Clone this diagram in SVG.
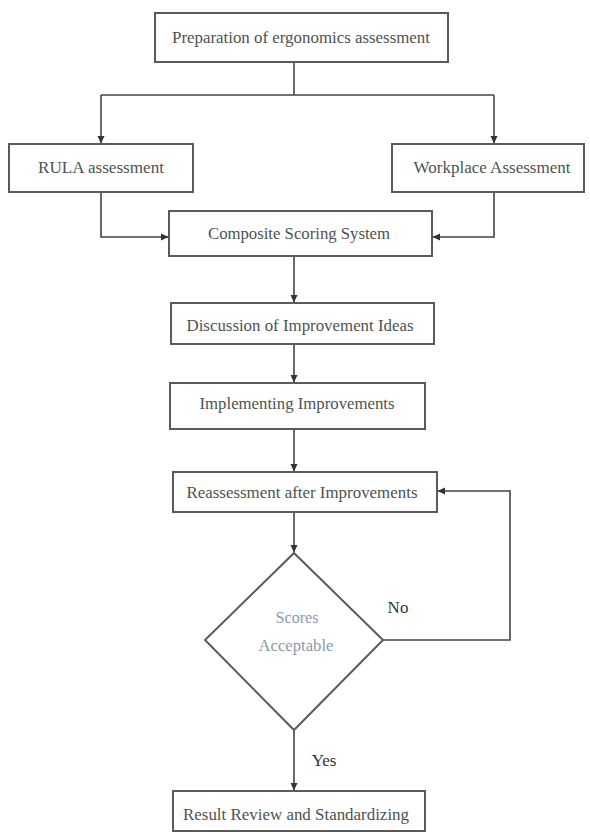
<svg xmlns="http://www.w3.org/2000/svg" width="590" height="832" viewBox="0 0 590 832">
<defs>
<marker id="arr" markerWidth="8" markerHeight="8" refX="7" refY="4" orient="auto" markerUnits="userSpaceOnUse">
<path d="M0,0.5 L7.5,4 L0,7.5 Z" fill="#333"/>
</marker>
<style>
.box{fill:#fff;stroke:#5a5a5a;stroke-width:2}
.t{font-family:"Liberation Serif","Times New Roman",serif;font-size:17px;fill:#4d5350;text-anchor:middle}
.d{font-family:"Liberation Serif","Times New Roman",serif;font-size:17px;fill:#8a9bab;text-anchor:middle}
.l{font-family:"Liberation Serif","Times New Roman",serif;font-size:17px;fill:#333;text-anchor:middle}
.c{fill:none;stroke:#444;stroke-width:1.6}
</style>
</defs>
<rect width="590" height="832" fill="#fff"/>
<g id="connectors">
<path class="c" d="M294,62 V95"/>
<path class="c" d="M101,95 H494"/>
<path class="c" d="M101,95 V143" marker-end="url(#arr)"/>
<path class="c" d="M494,95 V143" marker-end="url(#arr)"/>
<path class="c" d="M101,192 V237 H168" marker-end="url(#arr)"/>
<path class="c" d="M494,192 V237 H433" marker-end="url(#arr)"/>
<path class="c" d="M294,256 V302" marker-end="url(#arr)"/>
<path class="c" d="M294,344 V382" marker-end="url(#arr)"/>
<path class="c" d="M294,429 V471" marker-end="url(#arr)"/>
<path class="c" d="M294,512 V552" marker-end="url(#arr)"/>
<path class="c" d="M383,640 H510 V491 H438" marker-end="url(#arr)"/>
<path class="c" d="M294,730 V790" marker-end="url(#arr)"/>
</g>
<g id="prep">
<rect class="box" x="155" y="13" width="293" height="49"/>
<text class="t" x="301" y="43" textLength="258" lengthAdjust="spacingAndGlyphs">Preparation of ergonomics assessment</text>
</g>
<g id="rula">
<rect class="box" x="9" y="144" width="184" height="48"/>
<text class="t" x="101" y="173" textLength="126" lengthAdjust="spacingAndGlyphs">RULA assessment</text>
</g>
<g id="workplace">
<rect class="box" x="392" y="144" width="192" height="48"/>
<text class="t" x="492" y="173" textLength="157" lengthAdjust="spacingAndGlyphs">Workplace Assessment</text>
</g>
<g id="composite">
<rect class="box" x="169" y="211" width="263" height="45"/>
<text class="t" x="299" y="239" textLength="182" lengthAdjust="spacingAndGlyphs">Composite Scoring System</text>
</g>
<g id="discussion">
<rect class="box" x="171" y="303" width="263" height="41"/>
<text class="t" x="300" y="331" textLength="227" lengthAdjust="spacingAndGlyphs">Discussion of Improvement Ideas</text>
</g>
<g id="implementing">
<rect class="box" x="170" y="383" width="255" height="46"/>
<text class="t" x="297" y="409" textLength="195" lengthAdjust="spacingAndGlyphs">Implementing Improvements</text>
</g>
<g id="reassessment">
<rect class="box" x="173" y="472" width="264" height="40"/>
<text class="t" x="302" y="498" textLength="231" lengthAdjust="spacingAndGlyphs">Reassessment after Improvements</text>
</g>
<g id="decision">
<polygon class="box" points="294,553 383,640 294,730 205,640"/>
<text class="d" x="297" y="623" textLength="43" lengthAdjust="spacingAndGlyphs">Scores</text>
<text class="d" x="296" y="651" textLength="75" lengthAdjust="spacingAndGlyphs">Acceptable</text>
</g>
<g id="labels">
<text class="l" x="398" y="613">No</text>
<text class="l" x="324" y="766">Yes</text>
</g>
<g id="result">
<rect class="box" x="173" y="791" width="252" height="40"/>
<text class="t" x="296" y="820" textLength="226" lengthAdjust="spacingAndGlyphs">Result Review and Standardizing</text>
</g>
</svg>
